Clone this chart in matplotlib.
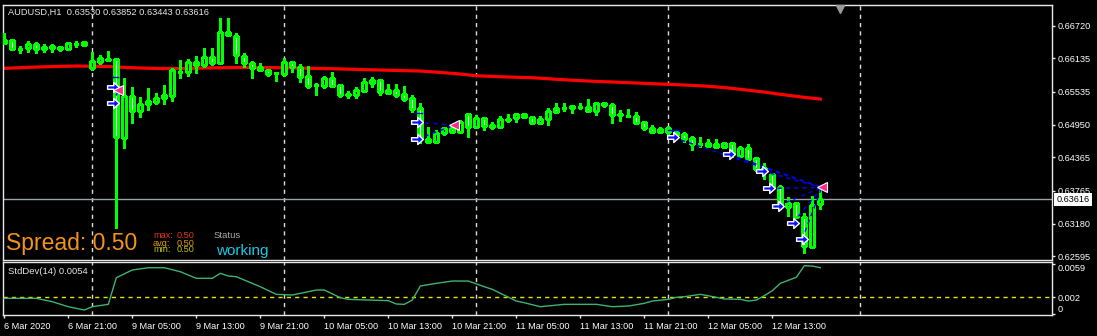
import matplotlib
matplotlib.use("Agg")
import matplotlib.pyplot as plt
import matplotlib.transforms as mtransforms
from matplotlib.path import Path

plt.rcParams['font.family'] = ['Liberation Sans', 'DejaVu Sans']

# ---------------- data (AUDUSD H1, bar 0 = 6 Mar 2020 13:00) ----------------
symbol = "AUDUSD,H1"
bar_index = list(range(103))
opens = [0.66416, 0.66464, 0.66308, 0.66315, 0.66387, 0.66298, 0.66357, 0.66298, 0.66298, 0.66387,
         0.66375, 0.65957, 0.66076, 0.66111, 0.66119, 0.64715, 0.65462, 0.65199, 0.65313, 0.65360,
         0.65420, 0.65467, 0.65900, 0.65886, 0.66065, 0.66011, 0.66154, 0.66047, 0.66613, 0.66541,
         0.66183, 0.66047, 0.65975, 0.65927, 0.65882, 0.65855, 0.66065, 0.65975, 0.65820, 0.65667,
         0.65641, 0.65789, 0.65659, 0.65492, 0.65480, 0.65556, 0.65748, 0.65748, 0.65569, 0.65569,
         0.65497, 0.65431, 0.65241, 0.64644, 0.64644, 0.64805, 0.64883, 0.64823, 0.65134, 0.64901,
         0.65062, 0.64943, 0.64901, 0.65037, 0.65062, 0.65134, 0.65091, 0.64973, 0.65045, 0.65241,
         0.65256, 0.65283, 0.65274, 0.65259, 0.65193, 0.65342, 0.65301, 0.65134, 0.65113, 0.65109,
         0.64991, 0.64883, 0.64866, 0.64883, 0.64764, 0.64781, 0.64704, 0.64611, 0.64615, 0.64602,
         0.64554, 0.64615, 0.64393, 0.64525, 0.64346, 0.64119, 0.64060, 0.63838, 0.63469, 0.63541,
         0.63301, 0.62764, 0.63530]
highs = [0.66584, 0.66473, 0.66357, 0.66452, 0.66434, 0.66387, 0.66387, 0.66357, 0.66419, 0.66452,
         0.66452, 0.66244, 0.66196, 0.66267, 0.66147, 0.65789, 0.65628, 0.65438, 0.65599, 0.65510,
         0.65659, 0.65968, 0.66106, 0.66124, 0.66178, 0.66315, 0.66315, 0.66852, 0.66852, 0.66584,
         0.66226, 0.66088, 0.66047, 0.65940, 0.65897, 0.66136, 0.66088, 0.66029, 0.65999, 0.65689,
         0.65820, 0.65897, 0.65671, 0.65551, 0.65628, 0.65789, 0.65807, 0.65761, 0.65676, 0.65676,
         0.65641, 0.65480, 0.65342, 0.64901, 0.64853, 0.64912, 0.64925, 0.65032, 0.65152, 0.65122,
         0.65091, 0.64991, 0.65104, 0.65139, 0.65163, 0.65152, 0.65109, 0.65104, 0.65241, 0.65342,
         0.65331, 0.65292, 0.65331, 0.65403, 0.65360, 0.65360, 0.65331, 0.65211, 0.65224, 0.65170,
         0.65014, 0.64943, 0.64912, 0.64925, 0.64853, 0.64823, 0.64746, 0.64722, 0.64687, 0.64687,
         0.64638, 0.64633, 0.64567, 0.64602, 0.64375, 0.64257, 0.64078, 0.63869, 0.63648, 0.63570,
         0.63362, 0.63672, 0.63852]
lows = [0.66401, 0.66290, 0.66226, 0.66255, 0.66237, 0.66255, 0.66255, 0.66273, 0.66285, 0.66344,
        0.66357, 0.65936, 0.66029, 0.66101, 0.63104, 0.64525, 0.64973, 0.65080, 0.65211, 0.65313,
        0.65318, 0.65378, 0.65789, 0.65825, 0.65868, 0.65986, 0.66017, 0.66043, 0.66536, 0.66058,
        0.65975, 0.65789, 0.65909, 0.65825, 0.65730, 0.65825, 0.65897, 0.65718, 0.65610, 0.65480,
        0.65599, 0.65628, 0.65449, 0.65431, 0.65431, 0.65539, 0.65617, 0.65480, 0.65497, 0.65449,
        0.65372, 0.65181, 0.64615, 0.64615, 0.64615, 0.64764, 0.64799, 0.64805, 0.64733, 0.64883,
        0.64853, 0.64866, 0.64883, 0.65002, 0.64991, 0.65062, 0.64955, 0.64955, 0.64943, 0.65163,
        0.65199, 0.65163, 0.65224, 0.65181, 0.65122, 0.65270, 0.64973, 0.65020, 0.65091, 0.64955,
        0.64853, 0.64805, 0.64805, 0.64687, 0.64728, 0.64644, 0.64495, 0.64543, 0.64554, 0.64543,
        0.64531, 0.64375, 0.64370, 0.64316, 0.64119, 0.63971, 0.63809, 0.63480, 0.63314, 0.63290,
        0.62646, 0.62746, 0.63443]
closes = [0.66464, 0.66298, 0.66299, 0.66392, 0.66303, 0.66344, 0.66315, 0.66333, 0.66405, 0.66401,
          0.66434, 0.66083, 0.66136, 0.66129, 0.64722, 0.65462, 0.65199, 0.65313, 0.65367, 0.65420,
          0.65480, 0.65927, 0.65891, 0.66065, 0.66011, 0.66154, 0.66047, 0.66613, 0.66554, 0.66196,
          0.66047, 0.65968, 0.65927, 0.65850, 0.65873, 0.66065, 0.65975, 0.65807, 0.65646, 0.65653,
          0.65789, 0.65646, 0.65480, 0.65483, 0.65569, 0.65718, 0.65700, 0.65539, 0.65521, 0.65480,
          0.65408, 0.65229, 0.64697, 0.64687, 0.64805, 0.64883, 0.64823, 0.64991, 0.64901, 0.65062,
          0.64930, 0.64901, 0.65045, 0.65045, 0.65134, 0.65091, 0.64973, 0.65045, 0.65193, 0.65181,
          0.65247, 0.65241, 0.65265, 0.65193, 0.65342, 0.65301, 0.65122, 0.65125, 0.65104, 0.64984,
          0.64883, 0.64823, 0.64823, 0.64812, 0.64823, 0.64692, 0.64597, 0.64602, 0.64572, 0.64554,
          0.64615, 0.64418, 0.64525, 0.64334, 0.64150, 0.64167, 0.63838, 0.63511, 0.63552, 0.63301,
          0.62777, 0.63511, 0.63616]

# red moving average (read at selected bars)
ma_index = [0, 4, 9, 13, 16, 19, 22, 25, 30, 35, 41, 47, 52, 55, 57, 59, 62, 66, 68, 70, 73, 77,
            83, 87, 90, 92, 95, 97, 100, 102]
ma_values = [0.65957, 0.65981, 0.65999, 0.65990, 0.65968, 0.65954, 0.65954, 0.65963, 0.65975,
             0.65968, 0.65950, 0.65927, 0.65909, 0.65879, 0.65855, 0.65825, 0.65807, 0.65789,
             0.65771, 0.65753, 0.65730, 0.65707, 0.65671, 0.65646, 0.65614, 0.65582, 0.65533,
             0.65492, 0.65438, 0.65408]

# StdDev(14)
std_index = [0, 4, 6, 8, 10, 11, 13, 14, 16, 18, 20, 22, 24, 26, 27, 28, 29, 32, 34, 36, 39, 40,
             42, 43, 48, 49, 50, 51, 52, 54, 56, 58, 60, 61, 64, 65, 67, 70, 74, 76, 78, 80, 81,
             83, 84, 85, 87, 89, 90, 92, 93, 94, 95, 96, 97, 99, 100, 101, 102]
std_values = [0.00185, 0.00185, 0.00145, 0.00086, 0.00047, 0.00086, 0.00114, 0.00428, 0.00519,
              0.00546, 0.00546, 0.00499, 0.00421, 0.00421, 0.00480, 0.00448, 0.00440, 0.00322,
              0.00232, 0.00224, 0.00283, 0.00283, 0.00192, 0.00173, 0.00157, 0.00118, 0.00114,
              0.00165, 0.00330, 0.00362, 0.00389, 0.00389, 0.00322, 0.00291, 0.00153, 0.00133,
              0.00086, 0.00114, 0.00114, 0.00086, 0.00094, 0.00126, 0.00153, 0.00173, 0.00197,
              0.00204, 0.00232, 0.00197, 0.00177, 0.00173, 0.00153, 0.00165, 0.00216, 0.00275,
              0.00362, 0.00433, 0.00570, 0.00566, 0.00546]
std_current = "0.0054"
std_level = 0.002

# trades (bar position, price)
entry_pos = [13.6, 13.6, 51.55, 51.55, 83.6, 90.6, 94.75, 95.6, 96.7, 98.6, 99.7]
entry_price = [0.65628, 0.65331, 0.64991, 0.64687, 0.64722, 0.64418, 0.64119, 0.63809, 0.63498,
               0.63194, 0.62897]
trade_exit = [0, 0, 1, 1, 2, 2, 2, 2, 2, 2, 2]
exit_pos = [14.25, 56.25, 102.2]
exit_price = [0.65569, 0.64943, 0.63827]
order_pos = [(13.6, 14.2), (51.3, 52.2), (83.0, 84.5)]
order_price = [0.65797, 0.65152, 0.64853]

price_ticks = [0.66720, 0.66135, 0.65535, 0.64950, 0.64365, 0.63765, 0.63180, 0.62595]
std_ticks = [0.0059, 0.002, 0]
std_tick_labels = ['0.0059', '0.002', '0']
time_tick_pos = [0, 8, 16, 24, 32, 40, 48, 56, 64, 72, 80, 88, 96]
time_tick_labels = ['6 Mar 2020', '6 Mar 21:00', '9 Mar 05:00', '9 Mar 13:00', '9 Mar 21:00',
                    '10 Mar 05:00', '10 Mar 13:00', '10 Mar 21:00', '11 Mar 05:00',
                    '11 Mar 13:00', '11 Mar 21:00', '12 Mar 05:00', '12 Mar 13:00']
day_separators = [11, 35, 59, 83, 107]
spread = 0.50
spread_max, spread_avg, spread_min = 0.50, 0.50, 0.50

# ---------------- figure ----------------
W, H = 1097, 336
fig = plt.figure(figsize=(W / 100, H / 100), dpi=100, facecolor='black')


def px_rect(x0, y0, x1, y1):
    return [x0 / W, 1 - y1 / H, (x1 - x0) / W, (y1 - y0) / H]


ax = fig.add_axes(px_rect(3, 5, 1051.7, 259.5))
ax2 = fig.add_axes(px_rect(3, 262, 1051.7, 315))
for a in (ax, ax2):
    a.set_facecolor('black')
    for s in a.spines.values():
        s.set_color('#e8e8e8')
        s.set_linewidth(1)
    a.set_xlim(-0.1625, 130.92)
ax.set_ylim(0.625374, 0.670904)
ax2.set_ylim(-0.000118, 0.006136)

# day separators
for g in day_separators:
    for a in (ax, ax2):
        a.axvline(g, color='#dcdcdc', lw=1, ls=(0, (3, 3)), zorder=1)

# moving average
ax.plot(ma_index, ma_values, color='#ff0000', lw=2.3, zorder=2, solid_joinstyle='miter')

# candles
body_bottom = [min(o, c) for o, c in zip(opens, closes)]
body_height = [abs(c - o) for o, c in zip(opens, closes)]
body_face = ['white' if c < o else 'black' for o, c in zip(opens, closes)]
ax.vlines(bar_index, lows, highs, color='#00ff00', lw=1, antialiased=False, zorder=3)
ax.bar(bar_index, body_height, bottom=body_bottom, width=0.52, color=body_face,
       edgecolor='#00ff00', linewidth=1, antialiased=False, zorder=4)

# current price line
ax.axhline(closes[-1], color='#9aa2ac', lw=1, zorder=2)

# trade lines and markers
for p, pr, e in zip(entry_pos, entry_price, trade_exit):
    ax.plot([p, exit_pos[e]], [pr, exit_price[e]], color='#0000ff', lw=1,
            ls=(0, (3, 3)), zorder=5)
for (p0, p1), pr in zip(order_pos, order_price):
    ax.plot([p0, p1], [pr, pr], color='#0000ff', lw=1, zorder=5)
arrow = Path([(-1, -0.3), (0.05, -0.3), (0.05, -0.85), (1, 0), (0.05, 0.85), (0.05, 0.3),
              (-1, 0.3), (-1, -0.3)],
             [Path.MOVETO] + [Path.LINETO] * 6 + [Path.CLOSEPOLY])
ax.plot(entry_pos, entry_price, ls='none', marker=arrow, ms=8.5, mfc='#1010ff',
        mec='white', mew=1, zorder=6)
ax.plot(exit_pos, exit_price, ls='none', marker='<', ms=7, mfc='#ff2a8a',
        mec='white', mew=0.8, zorder=6)

# axes ticks / labels
ax.yaxis.tick_right()
ax.set_yticks(price_ticks)
ax.set_yticklabels([f'{v:.5f}' for v in price_ticks])
ax.tick_params(axis='y', colors='#e8e8e8', labelcolor='white', labelsize=6.6,
               length=2.5, width=1, pad=1.8, direction='out')
ax.set_xticks([])

ax2.plot(std_index, std_values, color='#3cb371', lw=1, zorder=3)
ax2.axhline(std_level, color='#e6e600', lw=1, ls=(0, (3, 3)), zorder=2)
ax2.yaxis.tick_right()
ax2.set_yticks(std_ticks)
ax2.set_yticklabels(std_tick_labels)
ax2.tick_params(axis='y', colors='#e8e8e8', labelcolor='white', labelsize=6.6,
                length=2.5, width=1, pad=1.8, direction='out')
ylabs = ax2.get_yticklabels()
ylabs[0].set_va('top')
ylabs[-1].set_va('bottom')
ax2.set_xticks(time_tick_pos)
ax2.set_xticklabels(time_tick_labels)
ax2.tick_params(axis='x', colors='#e8e8e8', labelcolor='white', labelsize=6.6,
                length=2.5, width=1, pad=2.5, direction='out')
for lab in ax2.get_xticklabels():
    lab.set_ha('left')

# current price box
tr = mtransforms.blended_transform_factory(ax.transAxes, ax.transData)
tr = tr + mtransforms.ScaledTranslation(4.5 / 100, 0, fig.dpi_scale_trans)
ax.text(1.0, closes[-1], f'{closes[-1]:.5f}', transform=tr, ha='left', va='center',
        fontsize=6.6, color='black', zorder=10, clip_on=False,
        bbox=dict(facecolor='white', edgecolor='none', pad=1.6))

# chart shift marker
ax.plot([0.798], [0.985], transform=ax.transAxes, marker='v', ms=6, color='#9a9a9a',
        ls='none', clip_on=False, zorder=10)

# texts
def ftext(x, y, s, **kw):
    fig.text(x / W, 1 - y / H, s, **kw)


ftext(8, 12, f'{symbol}  {opens[-1]:.5f} {highs[-1]:.5f} {lows[-1]:.5f} {closes[-1]:.5f}',
      color='#e6e6e6', fontsize=6.7, va='center')
ftext(6, 250, f'Spread: {spread:.2f}', color='#f39318', fontsize=16.5, va='baseline')
ftext(153, 236, 'max:', color='#e8360c', fontsize=6.6, va='center')
ftext(153, 243, 'avg:', color='#e89a10', fontsize=6.6, va='center')
ftext(153, 250, 'min:', color='#b8c010', fontsize=6.6, va='center')
ftext(177, 236, f'{spread_max:.2f}', color='#e8360c', fontsize=6.6, va='center')
ftext(177, 243, f'{spread_avg:.2f}', color='#e89a10', fontsize=6.6, va='center')
ftext(177, 250, f'{spread_min:.2f}', color='#b8c010', fontsize=6.6, va='center')
ftext(214, 236, 'Status', color='#a8a8a8', fontsize=6.8, va='center')
ftext(216, 255, 'working', color='#19c8e6', fontsize=11, va='baseline')
ftext(8, 271, f'StdDev(14) {std_current}', color='#e6e6e6', fontsize=6.8, va='center')

fig.savefig('out.png', dpi=100, facecolor='black')
